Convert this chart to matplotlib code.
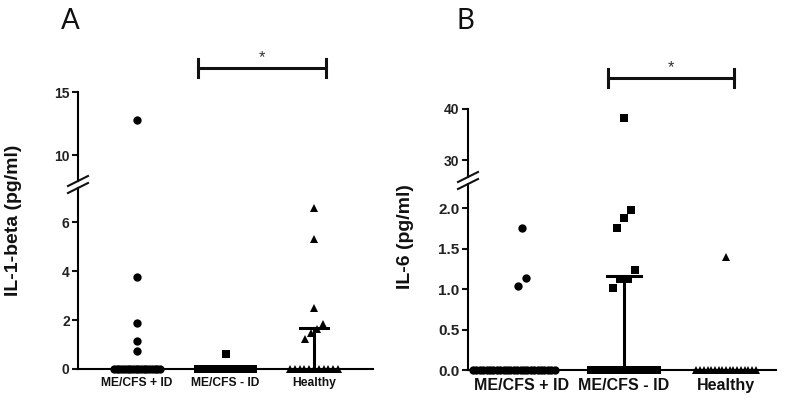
import numpy as np
import matplotlib.pyplot as plt
from matplotlib.lines import Line2D

plt.rcParams['font.family'] = ['Liberation Sans', 'DejaVu Sans']

# data
groups = ["ME/CFS + ID", "ME/CFS - ID", "Healthy"]
il1b_me_id = [12.8, 3.77, 1.89, 1.16, 0.73] + [0.0] * 18
il1b_me_noid = [0.6] + [0.0] * 21
il1b_healthy = [6.58, 5.32, 2.48, 1.84, 1.63, 1.47, 1.22] + [0.0] * 11
il6_me_id = [1.75, 1.14, 1.04] + [0.0] * 25
il6_me_noid = [38.2, 1.975, 1.885, 1.75, 1.24, 1.13, 1.12, 1.01] + [0.0] * 14
il6_healthy = [1.40] + [0.0] * 17

markers = ['o', 's', '^']
msizes = [6.0, 5.6, 6.2]
ink = '#111111'

W, H = 786, 399


def fx(px):
    return px / W


def fy(py):
    return 1 - py / H


def offsets(vals, tol, step, zero_hw, zero_shift):
    vals = np.asarray(vals)
    off = np.zeros(len(vals))
    zero = np.where(vals == 0)[0]
    if len(zero) > 1:
        off[zero] = np.linspace(-zero_hw, zero_hw, len(zero)) + zero_shift
    nz = [i for i in np.argsort(vals) if vals[i] != 0]
    clusters = []
    for i in nz:
        if clusters and abs(vals[i] - vals[clusters[-1][-1]]) < tol:
            clusters[-1].append(i)
        else:
            clusters.append([i])
    for c in clusters:
        k = len(c)
        for j, i in enumerate(c):
            off[i] = (j - (k - 1) / 2) * step
    return off


def panel(fig, left, right, y0, ybreak_lo, ybreak_hi, ytop, lo_lim, hi_lim,
          xlim, data, tols, zero_hw, zero_shift, lo_ticks, hi_ticks, lo_fmt, tick_fs, xfs,
          caps, ylabel, ylab_xy, title, title_xy, sig):
    axb = fig.add_axes([fx(left), fy(y0), fx(right) - fx(left), fy(ybreak_lo) - fy(y0)])
    axt = fig.add_axes([fx(left), fy(ybreak_hi), fx(right) - fx(left), fy(ytop) - fy(ybreak_hi)])
    axb.set_ylim(*lo_lim)
    axt.set_ylim(*hi_lim)
    for ax in (axb, axt):
        ax.set_xlim(*xlim)
        ax.patch.set_alpha(0)
        for s in ['top', 'right']:
            ax.spines[s].set_visible(False)
        ax.spines['left'].set_linewidth(1.5)
        ax.spines['bottom'].set_linewidth(1.5)
        ax.tick_params(axis='y', length=4, width=1.5, colors=ink, pad=2)
    axt.spines['bottom'].set_visible(False)
    axt.set_xticks([])
    axb.set_yticks(lo_ticks)
    axb.set_yticklabels([lo_fmt.format(t) for t in lo_ticks], fontweight='bold',
                        fontsize=tick_fs[0], color='#222222')
    axt.set_yticks(hi_ticks)
    axt.set_yticklabels(['{:g}'.format(t) for t in hi_ticks], fontweight='bold',
                        fontsize=tick_fs[1], color='#222222')
    axb.set_xticks([1, 2, 3])
    axb.set_xticklabels(groups, fontweight='bold', fontsize=xfs, color='#222222')
    axb.tick_params(axis='x', length=3, width=1.2, colors=ink, pad=3)

    for g, vals in enumerate(data):
        vals = np.asarray(vals)
        x = g + 1 + offsets(vals, tols[g], 0.07, zero_hw[g], zero_shift[g])
        lo = vals <= lo_lim[1]
        hi = vals >= hi_lim[0]
        kw = dict(marker=markers[g], ms=msizes[g], color='black', ls='none',
                  clip_on=False, zorder=3, mew=0)
        axb.plot(x[lo], vals[lo], **kw)
        axt.plot(x[hi], vals[hi], **kw)
        q1, med, q3 = np.percentile(vals, [25, 50, 75], method='weibull')
        if q3 > 0:
            axb.plot([g + 1, g + 1], [q1, q3], color='black', lw=2.2, zorder=2)
            axb.plot([g + 1 - caps, g + 1 + caps], [q3, q3], color='black', lw=2.2, zorder=4)

    # axis break marks
    for yb in (ybreak_lo, ybreak_hi):
        fig.add_artist(Line2D([fx(left - 10), fx(left + 10)], [fy(yb + 5), fy(yb - 5)],
                              color=ink, lw=1.5))

    # significance bar
    (x1, x2, yb) = sig
    h = (hi_lim[1] - hi_lim[0]) / (ybreak_hi - ytop) * 9
    axt.plot([x1, x2], [yb, yb], color=ink, lw=2.2, clip_on=False)
    axt.plot([x1, x1], [yb - h, yb + h], color=ink, lw=2.2, clip_on=False)
    axt.plot([x2, x2], [yb - h, yb + h], color=ink, lw=2.2, clip_on=False)
    axt.annotate('*', xy=((x1 + x2) / 2, yb), xytext=(0, 2), textcoords='offset points',
                 ha='center', va='bottom', fontsize=12, color='#333333', annotation_clip=False)

    fig.text(fx(ylab_xy[0]), fy(ylab_xy[1]), ylabel, rotation=90, ha='center', va='center',
             fontsize=14, fontweight='bold', color=ink)
    fig.text(fx(title_xy[0]), fy(title_xy[1]), title, ha='center', va='baseline',
             fontsize=20, family=['Lato', 'DejaVu Sans'], color=ink)


fig = plt.figure(figsize=(W / 100, H / 100), dpi=100)

panel(fig, 78, 373, 369, 188, 181, 92, (0, 7.39), (7.94, 15), (0.333, 3.667),
      [il1b_me_id, il1b_me_noid, il1b_healthy], [0.3, 0.3, 0.3], [0.26, 0.31, 0.27],
      [0, 0, 0], [0, 2, 4, 6], [10, 15], '{:g}', (10, 10), 8.7, 0.16,
      'IL-1-beta (pg/ml)', (14, 220), 'A', (70, 29), (1.69, 3.14, 16.9))

panel(fig, 468, 776, 370, 184, 177, 109, (0, 2.30), (26.7, 40), (0.47, 3.49),
      [il6_me_id, il6_me_noid, il6_healthy], [0.15, 0.15, 0.15], [0.40, 0.32, 0.29],
      [-0.08, 0, 0], [0.0, 0.5, 1.0, 1.5, 2.0], [30, 40], '{:.1f}', (11, 10), 11.5, 0.17,
      'IL-6 (pg/ml)', (405, 237), 'B', (465, 29), (1.84, 3.08, 46.1))

fig.savefig('out.png', dpi=100)
